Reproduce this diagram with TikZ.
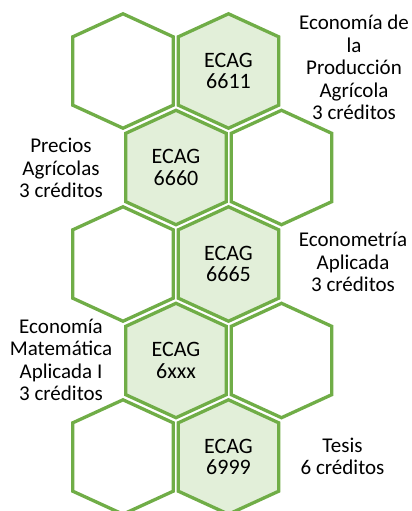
\documentclass[tikz,border=0pt]{standalone}
\usepackage{fontspec}
\setmainfont{Carlito}
\usepackage{tikz}
\usetikzlibrary{positioning,calc,backgrounds}

\definecolor{hexline}{RGB}{112,173,71}
\definecolor{hexfill}{RGB}{226,239,217}

\begin{document}
\begin{tikzpicture}[x=1pt,y=1pt,node distance=105.5pt,
        hex/.style={minimum width=100pt,minimum height=114pt,inner sep=0pt,align=center,
            font=\fontsize{22}{21.5}\selectfont},
        course/.style={align=center,inner sep=0pt,font=\fontsize{21}{22.5}\selectfont}]
            \useasboundingbox (0,0) rectangle (412,-511);

            \node[hex] (w1) at (123,-71) {};
            \node[hex,right of=w1] (c1) {ECAG\\6611};
            \node[hex] (c2) at (176,-167.5) {ECAG\\6660};
            \node[hex,right of=c2] (w2) {};
            \node[hex] (w3) at (123,-264) {};
            \node[hex,right of=w3] (c3) {ECAG\\6665};
            \node[hex] (c4) at (176,-360.5) {ECAG\\6xxx};
            \node[hex,right of=c4] (w4) {};
            \node[hex] (w5) at (123,-457) {};
            \node[hex,right of=w5] (c5) {ECAG\\6999};

            \begin{scope}[on background layer]
            \foreach \n/\f in {w1/white,c1/hexfill,c2/hexfill,w2/white,w3/white,c3/hexfill,c4/hexfill,w4/white,w5/white,c5/hexfill} {
                \filldraw[draw=hexline,fill=\f,line width=3.3pt,line join=miter]
                    (\n.north) -- ($ (\n.north east)+(0,-23) $) -- ($ (\n.south east)+(0,23) $)
                    -- (\n.south) -- ($ (\n.south west)+(0,23) $) -- ($ (\n.north west)+(0,-23) $) -- cycle; }
            \end{scope}

            \node[course] (t1) at (354,-67.5) {Economía de\\la\\Producción\\Agrícola\\3 créditos};
            \node[course] (t2) at (61,-168) {Precios\\Agrícolas\\3 créditos};
            \node[course] (t3) at (353,-262) {Econometría\\Aplicada\\3 créditos};
            \node[course] (t4) at (61,-360) {Economía\\Matemática\\Aplicada I\\3 créditos};
            \node[course] (t5) at (342.5,-456.5) {Tesis\\6 créditos};
        \end{tikzpicture}
\end{document}
